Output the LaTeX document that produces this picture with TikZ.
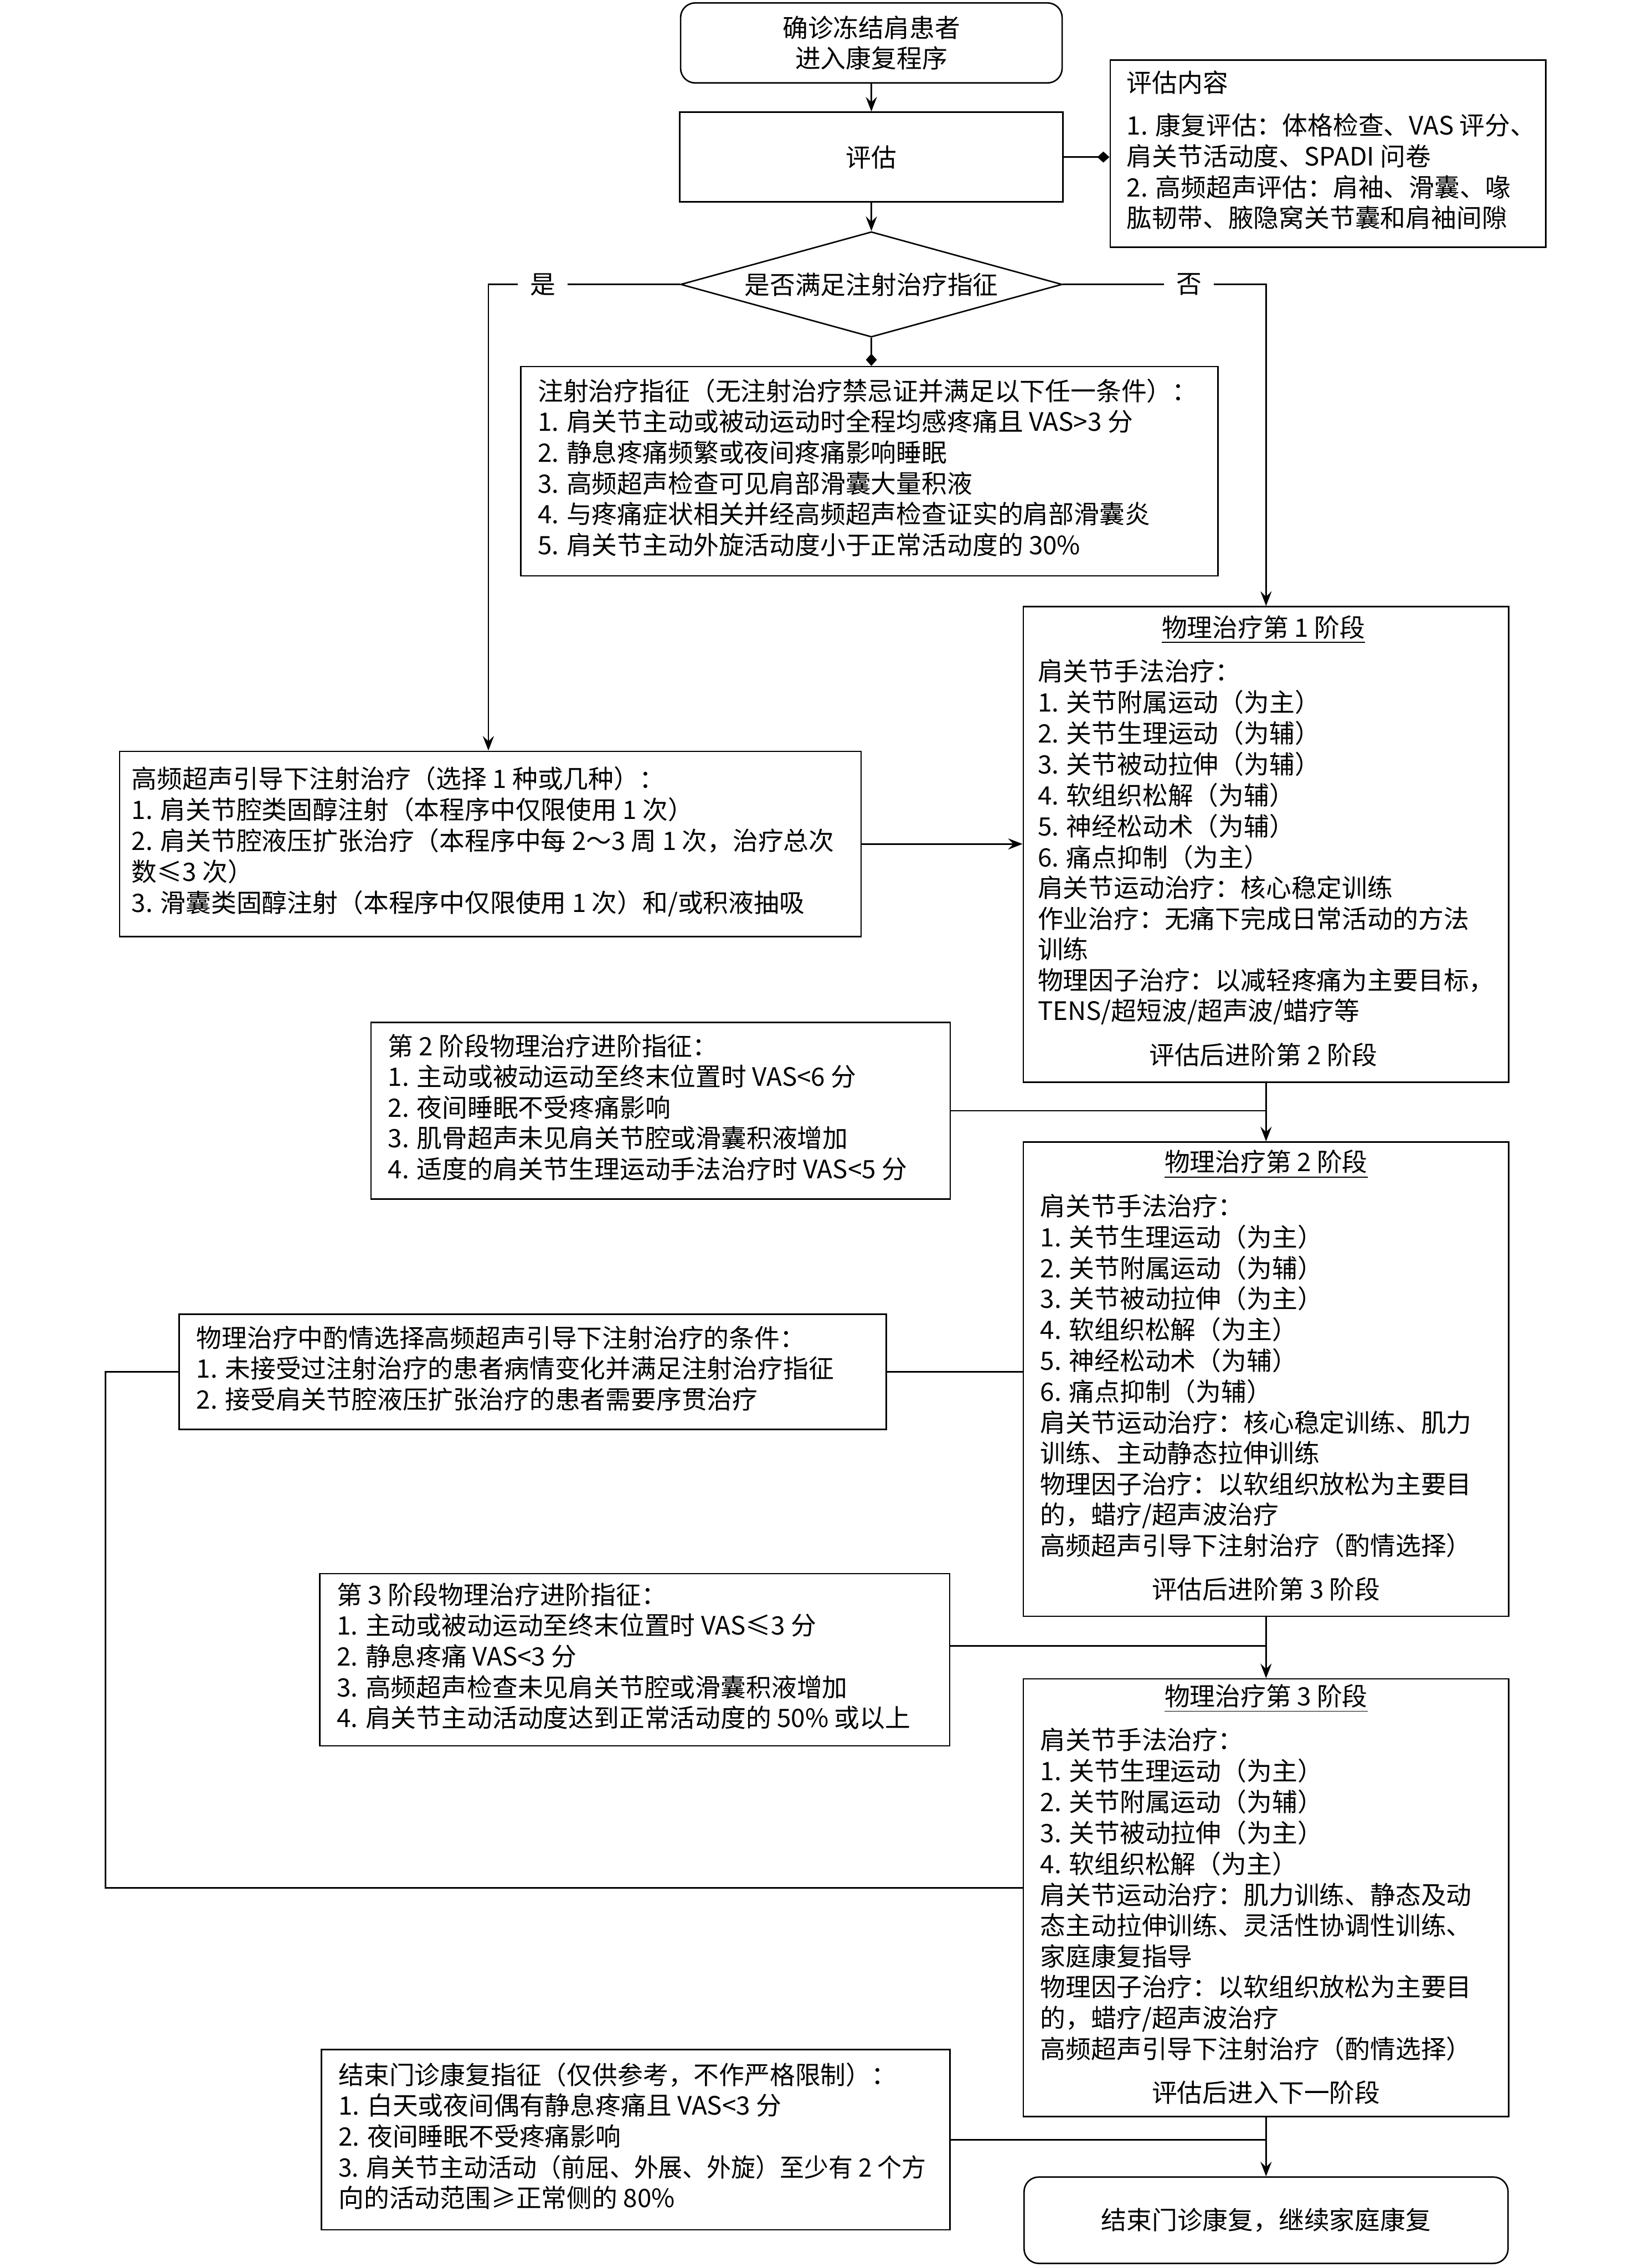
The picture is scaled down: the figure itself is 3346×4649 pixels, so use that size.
\documentclass[tikz,border=0pt]{standalone}
\usepackage{fontspec}
\usepackage{graphicx}
\setmainfont{Noto Sans CJK SC}
\usetikzlibrary{arrows.meta,shapes.geometric,calc}
\newcommand\lblock[2]{\makebox[#1][l]{\begin{tabular}{@{}l@{}}#2\end{tabular}}}
\newcommand\ctrline[1]{\makebox[185pt]{#1}}
\tikzset{
  bx/.style={draw, line width=0.6pt, inner sep=0pt, font=\fontsize{10.4}{12.6}\selectfont},
  rbox/.style={bx, rounded corners=6pt, align=center},
  ln/.style={line width=0.6pt},
  arr/.style={ln, -{Stealth[length=6pt,width=4.6pt,inset=2.2pt]}},
  dar/.style={ln, -{Diamond[length=5pt,width=4.5pt]}},
  lbl/.style={fill=white, inner xsep=5pt, inner ysep=1pt, font=\fontsize{10.4}{12.6}\selectfont},
}
\begin{document}
\begin{tikzpicture}[x=0.2pt,y=-0.2pt]
\useasboundingbox (0,0) rectangle (3346,4649);
\fill[white] (0,0) rectangle (3346,4649);

% top
\node[rbox, minimum width=156.4pt, minimum height=32.8pt] (start) at (1786,88) {确诊冻结肩患者\\进入康复程序};
\node[bx, minimum width=157pt, minimum height=36.8pt] (eval) at (1786,322) {评估};
\node[bx, minimum width=178.6pt, minimum height=76.6pt] (content) at (2722,315) {\lblock{165pt}{评估内容\\[5pt]
1. 康复评估：体格检查、VAS 评分、\\
肩关节活动度、SPADI 问卷\\
2. 高频超声评估：肩袖、滑囊、喙\\
肱韧带、腋隐窝关节囊和肩袖间隙}};
\node[draw, ln, shape=diamond, aspect=3.62, minimum width=156.4pt, minimum height=43.2pt, inner sep=0pt, font=\fontsize{10.4}{12.6}\selectfont] (dia) at (1786,583) {是否满足注射治疗指征};

\node[bx, minimum width=285.8pt, minimum height=85.8pt] (indic) at (1782,966) {\lblock{271.8pt}{注射治疗指征（无注射治疗禁忌证并满足以下任一条件）：\\
1. 肩关节主动或被动运动时全程均感疼痛且 VAS>3 分\\
2. 静息疼痛频繁或夜间疼痛影响睡眠\\
3. 高频超声检查可见肩部滑囊大量积液\\
4. 与疼痛症状相关并经高频超声检查证实的肩部滑囊炎\\
5. 肩关节主动外旋活动度小于正常活动度的 30\%}};

\node[bx, minimum width=304pt, minimum height=76pt] (inj) at (1005,1730) {\lblock{294pt}{高频超声引导下注射治疗（选择 1 种或几种）：\\
1. 肩关节腔类固醇注射（本程序中仅限使用 1 次）\\
2. 肩关节腔液压扩张治疗（本程序中每 2～3 周 1 次，治疗总次\\
数≤3 次）\\
3. 滑囊类固醇注射（本程序中仅限使用 1 次）和/或积液抽吸}};

% stage 1
\node[bx, minimum width=199pt, minimum height=195pt] (s1) at (2595,1731) {\begin{tabular}{@{}l@{}}
\ctrline{\underline{物理治疗第 1 阶段}}\\[5.4pt]
肩关节手法治疗：\\
1. 关节附属运动（为主）\\
2. 关节生理运动（为辅）\\
3. 关节被动拉伸（为辅）\\
4. 软组织松解（为辅）\\
5. 神经松动术（为辅）\\
6. 痛点抑制（为主）\\
肩关节运动治疗：核心稳定训练\\
作业治疗：无痛下完成日常活动的方法\\
训练\\
物理因子治疗：以减轻疼痛为主要目标，\\
TENS/超短波/超声波/蜡疗等\\[5.4pt]
\ctrline{评估后进阶第 2 阶段}
\end{tabular}};

\node[bx, minimum width=237.4pt, minimum height=72.4pt] (crit2) at (1354,2277) {\lblock{223.4pt}{第 2 阶段物理治疗进阶指征：\\
1. 主动或被动运动至终末位置时 VAS<6 分\\
2. 夜间睡眠不受疼痛影响\\
3. 肌骨超声未见肩关节腔或滑囊积液增加\\
4. 适度的肩关节生理运动手法治疗时 VAS<5 分}};

% stage 2
\node[bx, minimum width=199pt, minimum height=194.4pt] (s2) at (2595,2827) {\begin{tabular}{@{}l@{}}
\ctrline{\underline{物理治疗第 2 阶段}}\\[5.4pt]
肩关节手法治疗：\\
1. 关节生理运动（为主）\\
2. 关节附属运动（为辅）\\
3. 关节被动拉伸（为主）\\
4. 软组织松解（为主）\\
5. 神经松动术（为辅）\\
6. 痛点抑制（为辅）\\
肩关节运动治疗：核心稳定训练、肌力\\
训练、主动静态拉伸训练\\
物理因子治疗：以软组织放松为主要目\\
的，蜡疗/超声波治疗\\
高频超声引导下注射治疗（酌情选择）\\[5.4pt]
\ctrline{评估后进阶第 3 阶段}
\end{tabular}};

\node[bx, minimum width=289.8pt, minimum height=47.2pt] (cond) at (1092,2812) {\lblock{275.8pt}{物理治疗中酌情选择高频超声引导下注射治疗的条件：\\
1. 未接受过注射治疗的患者病情变化并满足注射治疗指征\\
2. 接受肩关节腔液压扩张治疗的患者需要序贯治疗}};

\node[bx, minimum width=258.2pt, minimum height=70.6pt] (crit3) at (1301,3402) {\lblock{244.2pt}{第 3 阶段物理治疗进阶指征：\\
1. 主动或被动运动至终末位置时 VAS≤3 分\\
2. 静息疼痛 VAS<3 分\\
3. 高频超声检查未见肩关节腔或滑囊积液增加\\
4. 肩关节主动活动度达到正常活动度的 50\% 或以上}};

% stage 3
\node[bx, minimum width=199pt, minimum height=179.4pt] (s3) at (2595,3890) {\begin{tabular}{@{}l@{}}
\ctrline{\underline{物理治疗第 3 阶段}}\\[5.4pt]
肩关节手法治疗：\\
1. 关节生理运动（为主）\\
2. 关节附属运动（为辅）\\
3. 关节被动拉伸（为主）\\
4. 软组织松解（为主）\\
肩关节运动治疗：肌力训练、静态及动\\
态主动拉伸训练、灵活性协调性训练、\\
家庭康复指导\\
物理因子治疗：以软组织放松为主要目\\
的，蜡疗/超声波治疗\\
高频超声引导下注射治疗（酌情选择）\\[5.4pt]
\ctrline{评估后进入下一阶段}
\end{tabular}};

\node[bx, minimum width=257.6pt, minimum height=73.8pt] (endcrit) at (1303,4386) {\lblock{243.6pt}{结束门诊康复指征（仅供参考，不作严格限制）：\\
1. 白天或夜间偶有静息疼痛且 VAS<3 分\\
2. 夜间睡眠不受疼痛影响\\
\scalebox{0.96}[1]{3. 肩关节主动活动（前屈、外展、外旋）至少有 2 个方}\\
向的活动范围≥正常侧的 80\%}};

\node[rbox, minimum width=198.4pt, minimum height=35.4pt] (end) at (2595,4551) {结束门诊康复，继续家庭康复};

% connectors
\draw[arr] (start.south) -- (eval.north);
\draw[arr] (eval.south) -- (dia.north);
\draw[dar] (eval.east) -- (eval.east -| content.west);
\draw[dar] (dia.south) -- (dia.south |- indic.north);
\coordinate (yc) at (1001,583);
\draw[arr] (dia.west) -- node[lbl, pos=0.716]{是} (yc) -- (yc |- inj.north);
\coordinate (nc) at (2595,583);
\draw[arr] (dia.east) -- node[lbl, pos=0.62]{否} (nc) -- (s1.north);
\draw[arr] (inj.east) -- (inj.east -| s1.west);
\draw[arr] (s1.south) -- (s2.north);
\draw[ln] (crit2.east) -- (crit2.east -| s1.south);
\draw[ln] (cond.east) -- (cond.east -| s2.west);
\coordinate (L1) at (216,2812);
\coordinate (L2) at (216,3870);
\draw[ln] (cond.west) -- (L1) -- (L2) -- (L2 -| s3.west);
\draw[arr] (s2.south) -- (s3.north);
\draw[ln] ([yshift=5.6pt]crit3.east) -- ([yshift=5.6pt]crit3.east -| s2.south);
\draw[arr] (s3.south) -- (end.north);
\draw[ln] (endcrit.east) -- (endcrit.east -| s3.south);
\end{tikzpicture}
\end{document}
